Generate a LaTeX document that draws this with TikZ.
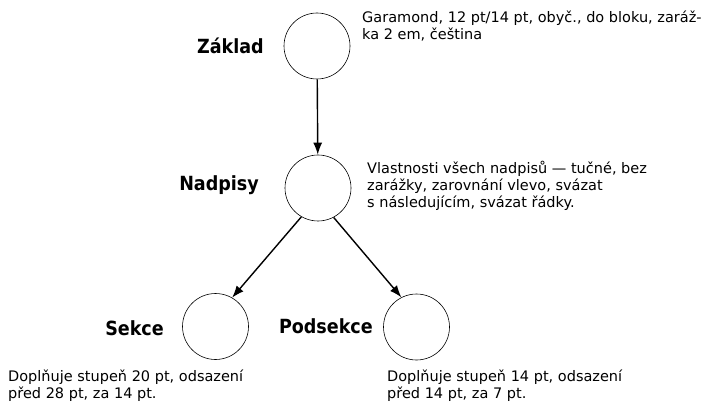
\documentclass[tikz,border=0pt]{standalone}
\usepackage{fontspec}
\setmainfont{DejaVu Sans}
\newfontfamily\nazevfont{DejaVu Sans Condensed}
\usetikzlibrary{arrows.meta}
\begin{document}
\begin{tikzpicture}[x=1pt, y=-1pt, >={Latex[length=12pt,width=9pt]},
    font=\fontsize{14.5}{17}\selectfont,
    kruh/.style={draw, circle, line width=0.6pt, minimum size=66pt, inner sep=0pt},
    nazev/.style={font=\nazevfont\fontsize{19.5}{22}\selectfont\bfseries, anchor=east, inner sep=0pt},
    popis/.style={align=left, anchor=west, inner sep=0pt},
    sipka/.style={->, line width=1.4pt}]

    \useasboundingbox (0,0) rectangle (703,403);

    % 1. Kruhy (styly)
    \node[kruh] (zaklad) at (317,46) {};
    \node[kruh] (nadpisy) at (318,188) {};
    \node[kruh] (sekce) at (215.5,326.5) {};
    \node[kruh] (podsekce) at (416.5,327) {};

    % 2. Nazvy vlevo od kruhu
    \node[nazev] (zakladnazev) at (264,46) {Základ};
    \node[nazev] (nadpisynazev) at (259,185) {Nadpisy};
    \node[nazev] (sekcenazev) at (164,328) {Sekce};
    \node[nazev] (podsekcenazev) at (373,326) {Podsekce};

    % 3. Popisy
    \node[popis] (zakladpopis) at (362,26) {Garamond, 12 pt/14 pt, obyč., do bloku, zaráž-\\ka 2 em, čeština};
    \node[popis] (nadpisypopis) at (367,186) {Vlastnosti všech nadpisů — tučné, bez\\zarážky, zarovnání vlevo, svázat\\s následujícím, svázat řádky.};
    \node[popis] (sekcepopis) at (8,386) {Doplňuje stupeň 20 pt, odsazení\\před 28 pt, za 14 pt.};
    \node[popis] (podsekcepopis) at (387,386) {Doplňuje stupeň 14 pt, odsazení\\před 14 pt, za 7 pt.};

    % 4. Sipky (dedicnost)
    \draw[sipka] (zaklad) -- (nadpisy);
    \draw[sipka] (nadpisy.-120) -- (sekce.60);
    \draw[sipka] (nadpisy.-62) -- (podsekce.117);

\end{tikzpicture}
\end{document}
